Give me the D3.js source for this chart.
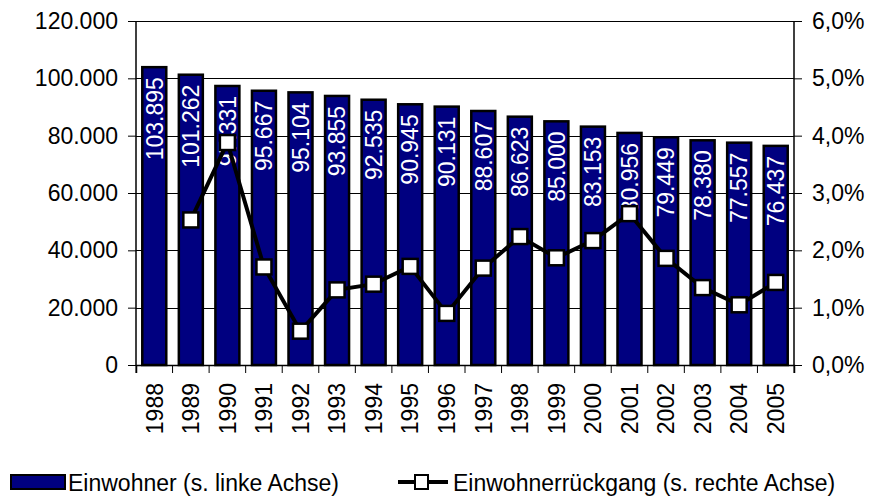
<!DOCTYPE html>
<html>
<head>
<meta charset="utf-8">
<script src="https://cdn.jsdelivr.net/npm/d3@7.9.0/dist/d3.min.js"></script>
<style>
  body { margin: 0; background: #fff; }
  svg { display: block; font-family: Arial, 'Liberation Sans', sans-serif; }
</style>
</head>
<body>
<div id="chart"></div>
<script>
// Data
const years = ['1988', '1989', '1990', '1991', '1992', '1993', '1994', '1995', '1996',
  '1997', '1998', '1999', '2000', '2001', '2002', '2003', '2004', '2005'];
const einwohner = [103895, 101262, 97331, 95667, 95104, 93855, 92535, 90945, 90131,
  88607, 86623, 85000, 83153, 80956, 79449, 78380, 77557, 76437];
// Einwohnerrückgang in Prozent (kein Wert für 1988)
const rueckgang = [null, 2.53, 3.88, 1.71, 0.59, 1.31, 1.41, 1.72, 0.90,
  1.69, 2.24, 1.87, 2.17, 2.64, 1.86, 1.35, 1.05, 1.44];
const leftTicks = [0, 20000, 40000, 60000, 80000, 100000, 120000];
const rightTicks = [0, 1, 2, 3, 4, 5, 6];
const legendLabels = ['Einwohner (s. linke Achse)', 'Einwohnerrückgang (s. rechte Achse)'];

const width = 877;
const height = 500;
const margin = { top: 21, right: 83, bottom: 135, left: 136 };
const fontSize = 23;

const de = d3.formatLocale({ decimal: ',', thousands: '.', grouping: [3], currency: ['', ' €'] });
const fmtInt = de.format(',');
const fmtPct = (d) => de.format('.1f')(d) + '%';

const svg = d3.select('#chart').append('svg')
  .attr('width', width)
  .attr('height', height);

const x = d3.scaleBand()
  .domain(years)
  .range([margin.left, width - margin.right]);

const y = d3.scaleLinear()
  .domain([0, 120000])
  .range([height - margin.bottom, margin.top]);

const y2 = d3.scaleLinear()
  .domain([0, 6])
  .range([height - margin.bottom, margin.top]);

// gridlines
svg.append('g')
  .attr('class', 'grid')
  .selectAll('line')
  .data(leftTicks.filter((d) => d > 0))
  .join('line')
  .attr('x1', margin.left)
  .attr('x2', width - margin.right)
  .attr('y1', (d) => Math.round(y(d)) + 0.5)
  .attr('y2', (d) => Math.round(y(d)) + 0.5)
  .attr('stroke', '#000')
  .attr('stroke-width', 1);

// bars
const barW = 24;
svg.append('g')
  .selectAll('rect')
  .data(einwohner)
  .join('rect')
  .attr('x', (d, i) => x(years[i]) + x.bandwidth() / 2 - barW / 2)
  .attr('y', (d) => y(d))
  .attr('width', barW)
  .attr('height', (d) => y(0) - y(d))
  .attr('fill', '#000080')
  .attr('stroke', '#000')
  .attr('stroke-width', 2.5);

// bar labels
svg.append('g')
  .selectAll('text')
  .data(einwohner)
  .join('text')
  .attr('transform', (d, i) => `translate(${x(years[i]) + x.bandwidth() / 2},${y(d) + 10}) rotate(-90)`)
  .attr('text-anchor', 'end')
  .attr('dy', '0.36em')
  .attr('fill', '#fff')
  .style('font-size', fontSize + 'px')
  .text((d) => fmtInt(d));

// axes
const axisLeft = d3.axisLeft(y).tickValues(leftTicks).tickSize(8).tickPadding(10).tickFormat((d) => fmtInt(d));
const gL = svg.append('g')
  .attr('transform', `translate(${margin.left},0)`)
  .call(axisLeft);

const axisRight = d3.axisRight(y2).tickValues(rightTicks).tickSize(8).tickPadding(10).tickFormat(fmtPct);
const gR = svg.append('g')
  .attr('transform', `translate(${width - margin.right},0)`)
  .call(axisRight);

const axisBottom = d3.axisBottom(x).tickSize(8).tickFormat('');
const gB = svg.append('g')
  .attr('transform', `translate(0,${height - margin.bottom})`)
  .call(axisBottom);
// ticks at category boundaries
gB.selectAll('.tick').remove();
gB.selectAll('.bnd')
  .data(years.concat(['end']))
  .join('line')
  .attr('x1', (d, i) => margin.left + i * x.step())
  .attr('x2', (d, i) => margin.left + i * x.step())
  .attr('y1', 0)
  .attr('y2', 8)
  .attr('stroke', '#000');

[gL, gR, gB].forEach((g) => {
  g.select('.domain').attr('stroke', '#000').attr('stroke-width', 1.5);
  g.selectAll('.tick line').attr('stroke', '#000');
  g.selectAll('text')
    .attr('fill', '#000')
    .style('font-size', fontSize + 'px')
    .style('font-family', "Arial, 'Liberation Sans', sans-serif");
});
gL.select('.domain').attr('d', `M0,${y(120000)}V${y(0)}`);
gR.select('.domain').attr('d', `M0,${y2(6)}V${y2(0)}`);

// year labels
svg.append('g')
  .selectAll('text')
  .data(years)
  .join('text')
  .attr('transform', (d) => `translate(${x(d) + x.bandwidth() / 2},${height - margin.bottom + 18}) rotate(-90)`)
  .attr('text-anchor', 'end')
  .attr('dy', '0.36em')
  .style('font-size', fontSize + 'px')
  .text((d) => d);

// line
const pts = rueckgang.map((v, i) => ({ year: years[i], v })).filter((d) => d.v != null);
const line = d3.line()
  .x((d) => x(d.year) + x.bandwidth() / 2)
  .y((d) => y2(d.v));

svg.append('path')
  .datum(pts)
  .attr('d', line)
  .attr('fill', 'none')
  .attr('stroke', '#000')
  .attr('stroke-width', 4)
  .attr('stroke-linejoin', 'miter');

const mk = 15;
svg.append('g')
  .selectAll('rect')
  .data(pts)
  .join('rect')
  .attr('x', (d) => x(d.year) + x.bandwidth() / 2 - mk / 2)
  .attr('y', (d) => y2(d.v) - mk / 2)
  .attr('width', mk)
  .attr('height', mk)
  .attr('fill', '#fff')
  .attr('stroke', '#000')
  .attr('stroke-width', 2.5);

// legend
const lg = svg.append('g');
lg.append('rect')
  .attr('x', 11).attr('y', 475).attr('width', 54).attr('height', 14)
  .attr('fill', '#000080').attr('stroke', '#000').attr('stroke-width', 2);
lg.append('text')
  .attr('x', 68).attr('y', 491)
  .style('font-size', fontSize + 'px')
  .text(legendLabels[0]);

lg.append('line')
  .attr('x1', 398).attr('x2', 448).attr('y1', 482).attr('y2', 482)
  .attr('stroke', '#000').attr('stroke-width', 4);
lg.append('rect')
  .attr('x', 415).attr('y', 475).attr('width', 13).attr('height', 14)
  .attr('fill', '#fff').attr('stroke', '#000').attr('stroke-width', 2);
lg.append('text')
  .attr('x', 453).attr('y', 491)
  .style('font-size', fontSize + 'px')
  .text(legendLabels[1]);
</script>
</body>
</html>
